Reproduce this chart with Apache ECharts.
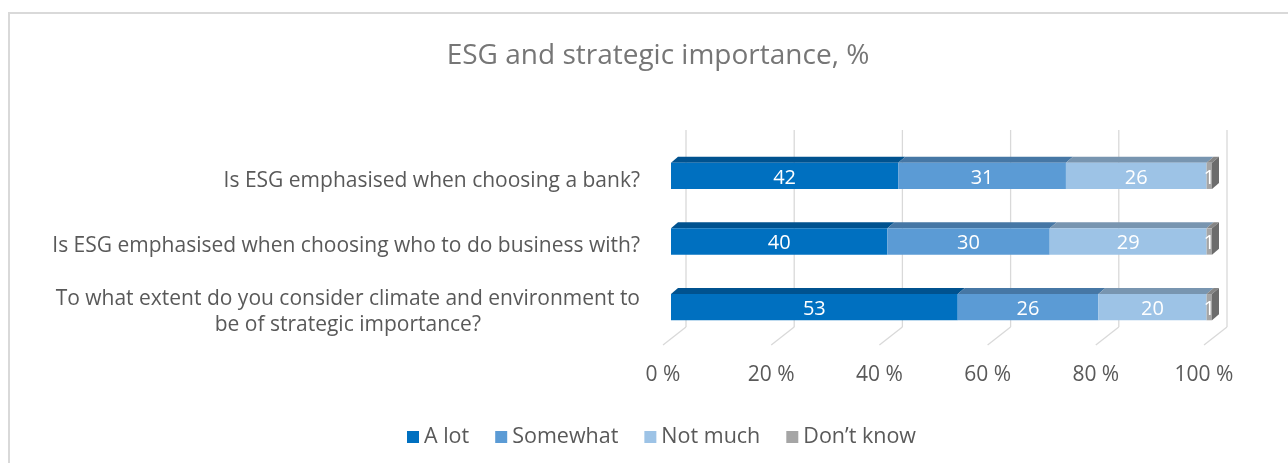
<!DOCTYPE html>
<html>
<head>
<meta charset="utf-8">
<script src="https://cdn.jsdelivr.net/npm/echarts@6/dist/echarts.min.js"></script>
<style>
html,body{margin:0;padding:0;background:#fff;}
#main{width:1288px;height:463px;}
</style>
</head>
<body>
<div id="main"></div>
<script>
// ---- data ----
const categories = [
  'Is ESG emphasised when choosing a bank?',
  'Is ESG emphasised when choosing who to do business with?',
  'To what extent do you consider climate and environment to\nbe of strategic importance?'
];
const seriesNames = ['A lot', 'Somewhat', 'Not much', 'Don\u2019t know'];
const aLot = [42, 40, 53];
const somewhat = [31, 30, 26];
const notMuch = [26, 29, 20];
const dontKnow = [1, 1, 1];
const xTicks = [0, 20, 40, 60, 80, 100];
const xTickLabels = ['0 %', '20 %', '40 %', '60 %', '80 %', '100 %'];

// ---- styles ----
const FONT = '"Open Sans"';
const frontColors = ['#0070C0', '#5B9BD5', '#9DC3E6', '#A5A5A5'];
const topColors = ['#00528f', '#4677a5', '#7895b0', '#858585'];
const sideColor = '#6c6c6c';
const DX = 7, DY = 6;

const allValues = [aLot, somewhat, notMuch, dontKnow];

function buildData(si) {
  return categories.map((c, i) => {
    let start = 0;
    for (let k = 0; k < si; k++) start += allValues[k][i];
    const v = allValues[si][i];
    return [start, start + v, i, v];
  });
}

function makeRender(si) {
  const isLast = si === allValues.length - 1;
  return function (params, api) {
    const p0 = api.coord([api.value(0), api.value(2)]);
    const p1 = api.coord([api.value(1), api.value(2)]);
    const h = api.size([0, 1])[1] * 0.4;
    const x0 = p0[0], x1 = p1[0], yc = p0[1];
    const top = yc - h / 2, bottom = yc + h / 2;
    const children = [
      { type: 'polygon', shape: { points: [[x0, top], [x1, top], [x1 + DX, top - DY], [x0 + DX, top - DY]] },
        style: { fill: topColors[si] } },
      { type: 'rect', shape: { x: x0, y: top, width: x1 - x0, height: h }, style: { fill: frontColors[si] } }
    ];
    if (isLast) {
      children.push({ type: 'polygon', shape: { points: [[x1, top], [x1 + DX, top - DY], [x1 + DX, bottom - DY], [x1, bottom]] },
        style: { fill: sideColor } });
    }
    children.push({ type: 'text', style: { x: (x0 + x1) / 2, y: yc + 2, text: String(api.value(3)), fill: '#ffffff',
      font: '20px ' + FONT, align: 'center', verticalAlign: 'middle' }, z2: 10 });
    return { type: 'group', children: children };
  };
}

function renderGrid(params, api) {
  const cs = params.coordSys;
  const p = api.coord([api.value(0), 0]);
  const x = p[0];
  const wallTop = cs.y - 13, wallBottom = cs.y + cs.height - 13, front = cs.y + cs.height + 5;
  return {
    type: 'group',
    children: [
      { type: 'line', shape: { x1: x + 15, y1: wallTop, x2: x + 15, y2: wallBottom }, style: { stroke: '#d9d9d9', lineWidth: 1.3 } },
      { type: 'line', shape: { x1: x + 15, y1: wallBottom, x2: x - 8, y2: front }, style: { stroke: '#d9d9d9', lineWidth: 1.3 } }
    ]
  };
}

const series = [{
  type: 'custom', name: 'grid', renderItem: renderGrid, data: xTicks.map(v => [v]), silent: true, z: 1,
  encode: { x: 0 }
}];
seriesNames.forEach((n, si) => {
  series.push({
    type: 'custom', name: n, renderItem: makeRender(si), data: buildData(si), z: 2 + si,
    itemStyle: { color: frontColors[si] },
    encode: { x: [0, 1], y: 2 }
  });
});

const chart = echarts.init(document.getElementById('main'), null, { renderer: 'canvas' });
chart.setOption({
  animation: false,
  backgroundColor: '#ffffff',
  graphic: [{ type: 'rect', shape: { x: 9, y: 13, width: 1300, height: 500 }, style: { fill: 'none', stroke: '#d9d9d9', lineWidth: 2 }, silent: true }],
  title: {
    text: 'ESG and strategic importance, %',
    left: 653, top: 37, textAlign: 'center',
    textStyle: { fontFamily: FONT, fontSize: 28, fontWeight: 'normal', color: '#767676' }
  },
  legend: {
    data: seriesNames,
    left: 402, top: 421,
    icon: 'rect', itemWidth: 12, itemHeight: 12, itemGap: 26,
    textStyle: { fontFamily: FONT, fontSize: 21.5, color: '#595959' }
  },
  grid: { left: 671, right: 76, top: 143, bottom: 123 },
  xAxis: {
    type: 'value', min: 0, max: 100, interval: 20,
    axisLine: { show: false }, axisTick: { show: false }, splitLine: { show: false },
    axisLabel: {
      margin: 25, padding: [0, 16, 0, 0],
      fontFamily: FONT, fontSize: 21, color: '#595959',
      formatter: function (v) { const i = xTicks.indexOf(v); return i >= 0 ? xTickLabels[i] : ''; }
    }
  },
  yAxis: {
    type: 'category', data: categories, inverse: true,
    axisLine: { show: false }, axisTick: { show: false }, splitLine: { show: false },
    axisLabel: {
      margin: 31, fontFamily: FONT, fontSize: 21, color: '#595959', padding: [10, 0, 0, 0], lineHeight: 26,
      formatter: function (v) {
        const parts = v.split('\n');
        if (parts.length === 1) return v;
        return parts[0] + '\n{w|' + parts[1] + '}';
      },
      rich: { w: { width: 524, align: 'center', fontFamily: FONT, fontSize: 21, color: '#595959', lineHeight: 26 } }
    }
  },
  series: series
});
</script>
</body>
</html>
